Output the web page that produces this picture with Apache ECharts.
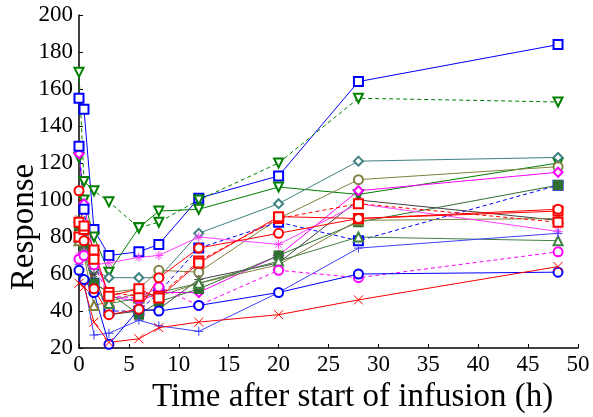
<!DOCTYPE html>
<html>
<head>
<meta charset="utf-8">
<script src="https://cdn.jsdelivr.net/npm/echarts@6/dist/echarts.min.js"></script>
<style>
  html, body { margin: 0; padding: 0; background: #fff; }
  #chart { width: 593px; height: 417px; }
</style>
</head>
<body>
<div id="chart"></div>
<script>
// sampling times (h)
var times = [0, 0.5, 1.5, 3, 6, 8, 12, 20, 28, 48];

// one array per subject
var blueSq      = [155, 149, 84, 70, 72, 76, 101, 113, 164, 184];
var greenDashTri= [169, 110, 105, 99, 85, 88, 100, 120, 155, 153];
var greenTri    = [123, 100, 80, 61, 85, 94, 95, 107, 103, 120];
var tealDia     = [88, 82, 62, 58, 58, 58, 82, 98, 121, 123];
var oliveCirc   = [82, 76, 55, 50, 52, 62, 61, 90, 111, 118];
var magDia      = [125, 98, 70, 48, 45, 50, 50, 70, 105, 115];
var blueDashSq  = [129, 95, 55, 40, 40, 50, 74, 88, 78, 108];
var greenSq     = [86, 75, 55, 50, 38, 45, 52, 70, 88, 108];
var grayStar    = [90, 80, 60, 38, 40, 41, 57, 66, 100, 89];
var oliveTri    = [78, 70, 43, 45, 50, 48, 55, 65, 89, 90];
var greenTriUp  = [80, 72, 52, 44, 47, 50, 55, 67, 80, 78];
var magStar     = [70, 72, 65, 66, 69, 70, 80, 76, 98, 83];
var lblPlus     = [65, 56, 27, 28, 35, 32, 29, 50, 74, 82];
var magDashCirc = [68, 70, 65, 48, 47, 53, 43, 62, 58, 72];
var blueCirc    = [62, 57, 50, 22, 41, 40, 43, 50, 60, 61];
var redX        = [55, 53, 34, 23, 25, 31, 34, 38, 46, 64];
var redDashSq   = [80, 84, 68, 50, 48, 48, 67, 90, 98, 88];
var redSq       = [88, 86, 73, 48, 52, 47, 66, 91, 90, 94];
var redCirc     = [105, 78, 52, 38, 41, 58, 74, 82, 90, 95];

var xTicks = [0, 5, 10, 15, 20, 25, 30, 35, 40, 45, 50];
var yTicks = [20, 40, 60, 80, 100, 120, 140, 160, 180, 200];

var X = 'path://M0,0L10,10M10,0L0,10';
var PLUS = 'path://M5,0L5,10M0,5L10,5';
var STAR = 'path://M5,0L5,10M0,5L10,5M1.5,1.5L8.5,8.5M8.5,1.5L1.5,8.5';

function mk(name, vals, color, symbol, dashed, rotate) {
  var path = symbol.indexOf('path://') === 0;
  return {
    name: name,
    type: 'line',
    data: times.map(function (t, i) { return [t, vals[i]]; }),
    connectNulls: true,
    symbol: symbol,
    symbolSize: 9,
    symbolRotate: rotate || 0,
    animation: false,
    lineStyle: { color: color, width: 1, type: dashed ? [4, 3] : 'solid' },
    itemStyle: path
      ? { color: color, borderColor: color, borderWidth: 1 }
      : { color: color, borderColor: color, borderWidth: 1.2 }
  };
}

var chart = echarts.init(document.getElementById('chart'));
chart.setOption({
  backgroundColor: '#fff',
  grid: { left: 79, top: 15, right: 15, bottom: 69 },
  xAxis: {
    type: 'value', min: 0, max: 50, interval: 5,
    axisLine: { lineStyle: { color: '#000', width: 1.5 } },
    axisTick: { inside: true, length: 4, lineStyle: { color: '#000' } },
    axisLabel: {
      margin: 5, color: '#000', fontFamily: 'Liberation Serif', fontSize: 23,
      formatter: function (v) { return xTicks.indexOf(v) >= 0 ? v : ''; }
    },
    splitLine: { show: false }
  },
  yAxis: {
    type: 'value', min: 20, max: 200, interval: 20,
    axisLine: { show: true, lineStyle: { color: '#000', width: 1.5 } },
    axisTick: { show: true, inside: true, length: 4, lineStyle: { color: '#000' } },
    axisLabel: {
      margin: 6, color: '#000', fontFamily: 'Liberation Serif', fontSize: 23,
      formatter: function (v) { return yTicks.indexOf(v) >= 0 ? v : ''; }
    },
    splitLine: { show: false }
  },
  graphic: [
    {
      type: 'text', left: 152, top: 381,
      style: { text: 'Time after start of infusion (h)', font: '33px "Liberation Serif"', fill: '#000' }
    },
    {
      type: 'text', x: 24, y: 227, rotation: Math.PI / 2,
      style: { text: 'Response', font: '33px "Liberation Serif"', fill: '#000', align: 'center', verticalAlign: 'middle' }
    }
  ],
  series: [
    mk('blueSq', blueSq, '#0000ff', 'emptyRect'),
    mk('greenDashTri', greenDashTri, '#008000', 'emptyTriangle', true, 180),
    mk('greenTri', greenTri, '#008000', 'emptyTriangle', false, 180),
    mk('tealDia', tealDia, '#408080', 'emptyDiamond'),
    mk('oliveCirc', oliveCirc, '#808040', 'emptyCircle'),
    mk('magDia', magDia, '#ff00ff', 'emptyDiamond'),
    mk('blueDashSq', blueDashSq, '#0000ff', 'emptyRect', true),
    mk('greenSq', greenSq, '#2f6f2f', 'rect'),
    mk('grayStar', grayStar, '#404040', STAR),
    mk('oliveTri', oliveTri, '#808040', 'emptyTriangle'),
    mk('greenTriUp', greenTriUp, '#408040', 'emptyTriangle'),
    mk('magStar', magStar, '#ff40ff', STAR),
    mk('lblPlus', lblPlus, '#4040ff', PLUS),
    mk('magDashCirc', magDashCirc, '#ff00ff', 'emptyCircle', true),
    mk('blueCirc', blueCirc, '#0000ff', 'emptyCircle'),
    mk('redX', redX, '#ff0000', X),
    mk('redDashSq', redDashSq, '#ff0000', 'emptyRect', true),
    mk('redSq', redSq, '#ff0000', 'emptyRect'),
    mk('redCirc', redCirc, '#ff0000', 'emptyCircle')
  ]
});
</script>
</body>
</html>
